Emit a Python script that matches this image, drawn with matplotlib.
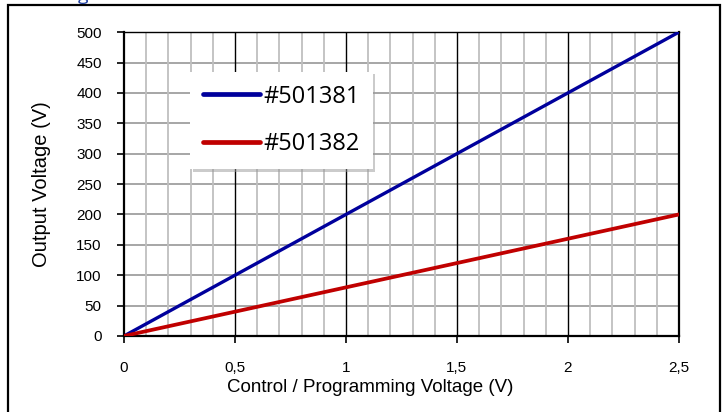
import numpy as np
import matplotlib
matplotlib.use("Agg")
import matplotlib.pyplot as plt
from matplotlib.patches import Rectangle

plt.rcParams.update({"font.family": ["Liberation Sans", "DejaVu Sans"], "font.size": 11})

# data
ctrl_v = [0, 0.5, 1.0, 1.5, 2.0, 2.5]
out_501381 = [0, 100, 200, 300, 400, 500]
out_501382 = [0, 40, 80, 120, 160, 200]
series_names = ["#501381", "#501382"]
x_ticks = [0, 0.5, 1, 1.5, 2, 2.5]
x_tick_labels = ["0", "0,5", "1", "1,5", "2", "2,5"]
y_ticks = list(range(0, 501, 50))

fig = plt.figure(figsize=(7.23, 4.12), dpi=100)
ax = fig.add_axes([0.1715, 0.1845, 0.7675, 0.7375])

# outer chart border
fig.patches.append(Rectangle((0.011, -0.05), 0.985, 1.038, transform=fig.transFigure,
                             fill=False, edgecolor="black", lw=1.6, clip_on=False))
# clipped heading fragment
fig.text(0.108, 1.012, "g", color="#1F3FA0", fontsize=14, family="Open Sans",
         ha="left", va="center")

ax.set_xlim(0, 2.5)
ax.set_ylim(0, 500)

# grid
for xv in np.arange(0.1, 2.5, 0.1):
    major = abs(xv / 0.5 - round(xv / 0.5)) < 1e-6
    ax.axvline(xv, color="black" if major else "#BFBFBF", lw=1.0 if major else 1.3, zorder=1)
for yv in y_ticks[1:-1]:
    ax.axhline(yv, color="#A6A6A6", lw=1.4, zorder=0.9)

ax.plot(ctrl_v, out_501381, color="#00009C", lw=2.4, label=series_names[0], zorder=3,
        solid_capstyle="round")
ax.plot(ctrl_v, out_501382, color="#C00000", lw=2.7, label=series_names[1], zorder=3,
        solid_capstyle="round")

ax.set_xticks(x_ticks)
ax.set_xticklabels(x_tick_labels)
ax.set_yticks(y_ticks)
ax.tick_params(axis="x", direction="out", length=5, width=1.2, pad=13)
ax.tick_params(axis="y", direction="out", length=5, width=1.2, pad=11)
for s in ax.spines.values():
    s.set_linewidth(1.6)
ax.spines["top"].set_linewidth(1.0)

ax.set_xlabel("Control / Programming Voltage (V)", fontsize=13.5, labelpad=3)
ax.xaxis.label.set_x(0.443)
ax.set_ylabel("Output Voltage (V)", fontsize=14.5, labelpad=18)

leg = ax.legend(loc="upper left", bbox_to_anchor=(0.119, 0.87), borderaxespad=0,
                prop={"family": "Open Sans", "size": 17}, frameon=True, fancybox=False,
                shadow={"color": "#999999", "alpha": 0.5}, edgecolor="white",
                handlelength=2.4, handletextpad=0.15, labelspacing=1.0, borderpad=0.55)
leg.get_frame().set_linewidth(0)
for line in leg.get_lines():
    line.set_linewidth(3.4)

fig.savefig("out.png", dpi=100)
